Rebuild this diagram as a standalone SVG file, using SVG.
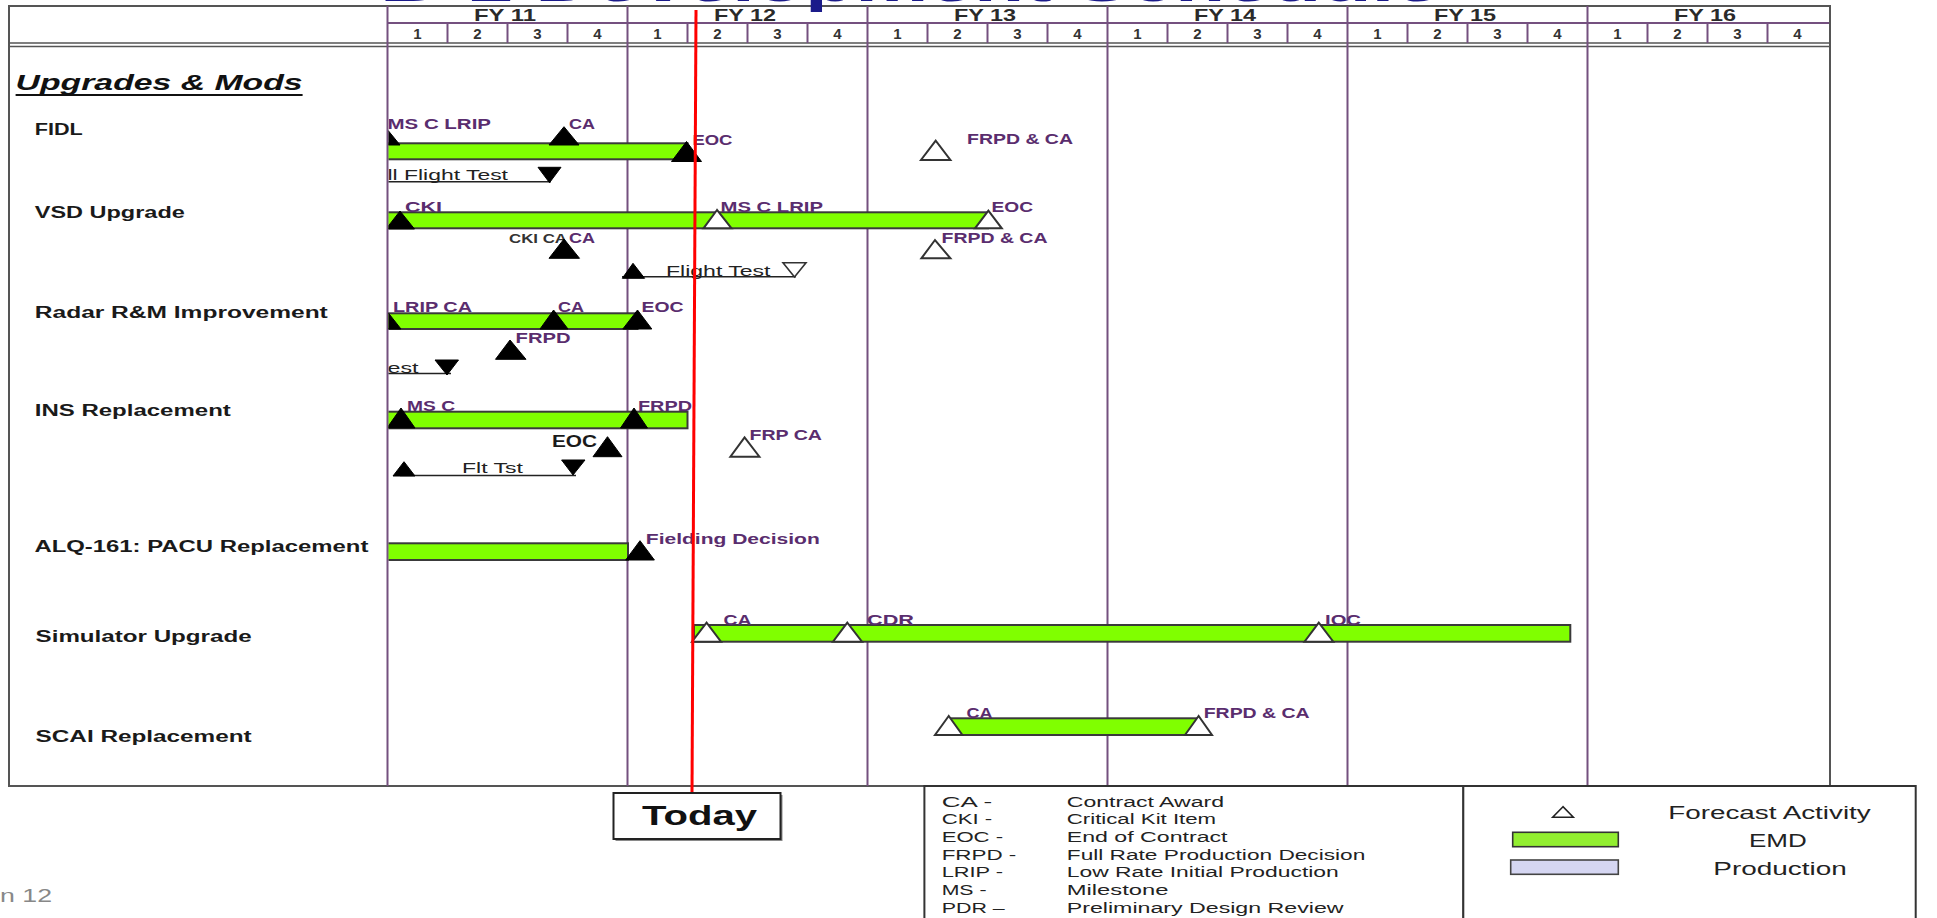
<svg xmlns="http://www.w3.org/2000/svg" width="1937" height="918" viewBox="0 0 1937 918">
<defs>
<style>
text{font-family:"Liberation Sans",Arial,sans-serif}
.ms{font-size:14.5px;font-weight:bold;fill:#5a2d6e}
.row{font-size:16px;font-weight:bold;fill:#1a1a1a}
.reg{font-size:15.5px;fill:#222}
.fy{font-size:17px;font-weight:bold;fill:#2a2a2a}
.q{font-size:15px;font-weight:bold;fill:#333;text-anchor:middle}
.lg{font-size:14px;fill:#222}
.lg2{font-size:17.5px;fill:#222}
.bar{fill:#80ff00;stroke:#3a3a3a;stroke-width:2}
.tb{fill:#000;stroke:#000;stroke-width:1}
.th{fill:#fff;stroke:#333;stroke-width:2}
.grid{stroke:#74507f;stroke-width:2}
.span{stroke:#222;stroke-width:1.6}
</style>
<clipPath id="chartclip"><rect x="388.5" y="46" width="1441" height="740"/></clipPath>
</defs>
<rect width="1937" height="918" fill="#fff"/>

<g id="frame">
<rect x="9" y="6" width="1821" height="780" fill="none" stroke="#555" stroke-width="2"/>
<line class="grid" x1="387.5" y1="23" x2="1829" y2="23"/>
<line x1="9" y1="43" x2="1830" y2="43" stroke="#555" stroke-width="1.6"/>
<line x1="9" y1="46.5" x2="1830" y2="46.5" stroke="#555" stroke-width="1.6"/>
<g class="grid">
<line x1="387.5" y1="6" x2="387.5" y2="786"/>
<line x1="627.5" y1="6" x2="627.5" y2="786"/>
<line x1="867.5" y1="6" x2="867.5" y2="786"/>
<line x1="1107.5" y1="6" x2="1107.5" y2="786"/>
<line x1="1347.5" y1="6" x2="1347.5" y2="786"/>
<line x1="1587.5" y1="6" x2="1587.5" y2="786"/>
<line x1="447.5" y1="23" x2="447.5" y2="43"/><line x1="507.5" y1="23" x2="507.5" y2="43"/><line x1="567.5" y1="23" x2="567.5" y2="43"/>
<line x1="687.5" y1="23" x2="687.5" y2="43"/><line x1="747.5" y1="23" x2="747.5" y2="43"/><line x1="807.5" y1="23" x2="807.5" y2="43"/>
<line x1="927.5" y1="23" x2="927.5" y2="43"/><line x1="987.5" y1="23" x2="987.5" y2="43"/><line x1="1047.5" y1="23" x2="1047.5" y2="43"/>
<line x1="1167.5" y1="23" x2="1167.5" y2="43"/><line x1="1227.5" y1="23" x2="1227.5" y2="43"/><line x1="1287.5" y1="23" x2="1287.5" y2="43"/>
<line x1="1407.5" y1="23" x2="1407.5" y2="43"/><line x1="1467.5" y1="23" x2="1467.5" y2="43"/><line x1="1527.5" y1="23" x2="1527.5" y2="43"/>
<line x1="1647.5" y1="23" x2="1647.5" y2="43"/><line x1="1707.5" y1="23" x2="1707.5" y2="43"/><line x1="1767.5" y1="23" x2="1767.5" y2="43"/>
</g>
</g>

<text id="title" x="380" y="1" font-size="52" font-weight="bold" fill="#1b1b8a" textLength="1060" lengthAdjust="spacingAndGlyphs">B-1 Development Schedule</text>

<g id="header">
<text class="fy" x="505" y="20.5" text-anchor="middle" textLength="62" lengthAdjust="spacingAndGlyphs">FY 11</text>
<text class="fy" x="745" y="20.5" text-anchor="middle" textLength="62" lengthAdjust="spacingAndGlyphs">FY 12</text>
<text class="fy" x="985" y="20.5" text-anchor="middle" textLength="62" lengthAdjust="spacingAndGlyphs">FY 13</text>
<text class="fy" x="1225" y="20.5" text-anchor="middle" textLength="62" lengthAdjust="spacingAndGlyphs">FY 14</text>
<text class="fy" x="1465" y="20.5" text-anchor="middle" textLength="62" lengthAdjust="spacingAndGlyphs">FY 15</text>
<text class="fy" x="1705" y="20.5" text-anchor="middle" textLength="62" lengthAdjust="spacingAndGlyphs">FY 16</text>
<text class="q" y="38.5"><tspan x="417.5">1</tspan><tspan x="477.5">2</tspan><tspan x="537.5">3</tspan><tspan x="597.5">4</tspan><tspan x="657.5">1</tspan><tspan x="717.5">2</tspan><tspan x="777.5">3</tspan><tspan x="837.5">4</tspan><tspan x="897.5">1</tspan><tspan x="957.5">2</tspan><tspan x="1017.5">3</tspan><tspan x="1077.5">4</tspan><tspan x="1137.5">1</tspan><tspan x="1197.5">2</tspan><tspan x="1257.5">3</tspan><tspan x="1317.5">4</tspan><tspan x="1377.5">1</tspan><tspan x="1437.5">2</tspan><tspan x="1497.5">3</tspan><tspan x="1557.5">4</tspan><tspan x="1617.5">1</tspan><tspan x="1677.5">2</tspan><tspan x="1737.5">3</tspan><tspan x="1797.5">4</tspan></text>
</g>

<g id="section-title">
<text x="15.6" y="90" font-size="22" font-weight="bold" font-style="italic" fill="#111" textLength="287" lengthAdjust="spacingAndGlyphs">Upgrades &amp; Mods</text>
<line x1="15.6" y1="95" x2="302.6" y2="95" stroke="#111" stroke-width="2"/>
</g>

<g id="row-labels">
<text class="row" x="34.8" y="135" textLength="48" lengthAdjust="spacingAndGlyphs">FIDL</text>
<text class="row" x="34.8" y="218.3" textLength="150" lengthAdjust="spacingAndGlyphs">VSD Upgrade</text>
<text class="row" x="34.8" y="318.3" textLength="293" lengthAdjust="spacingAndGlyphs">Radar R&amp;M Improvement</text>
<text class="row" x="34.8" y="416" textLength="196" lengthAdjust="spacingAndGlyphs">INS Replacement</text>
<text class="row" x="34.4" y="552.3" textLength="334" lengthAdjust="spacingAndGlyphs">ALQ-161: PACU Replacement</text>
<text class="row" x="35.6" y="642.3" textLength="216" lengthAdjust="spacingAndGlyphs">Simulator Upgrade</text>
<text class="row" x="35.6" y="741.7" textLength="216" lengthAdjust="spacingAndGlyphs">SCAI Replacement</text>
</g>

<g id="connectors" clip-path="url(#chartclip)">
<line class="span" x1="387.5" y1="181.7" x2="551" y2="181.7"/>
<line class="span" x1="622" y1="276.7" x2="796" y2="276.7"/>
<line class="span" x1="387.5" y1="373.5" x2="451" y2="373.5"/>
<line class="span" x1="400" y1="475.5" x2="576" y2="475.5"/>
</g>

<g id="row-fidl" clip-path="url(#chartclip)">
<rect class="bar" x="387.5" y="143.3" width="300" height="16"/>
<polygon class="tb" points="385,126.7 370,145 400,145"/>
<polygon class="tb" points="564,126.7 549,145 579,145"/>
<polygon class="tb" points="686.5,141.5 671.5,161.5 701.5,161.5"/>
<polygon class="th" points="935.7,140.7 921,160 950.4,160"/>
<text class="ms" x="387.5" y="129" textLength="103.5" lengthAdjust="spacingAndGlyphs">MS C LRIP</text>
<text class="ms" x="569" y="129" textLength="26" lengthAdjust="spacingAndGlyphs">CA</text>
<text class="ms" x="692.4" y="145" textLength="40" lengthAdjust="spacingAndGlyphs">EOC</text>
<text class="ms" x="967" y="144" textLength="106" lengthAdjust="spacingAndGlyphs">FRPD &amp; CA</text>
<text class="reg" x="387.5" y="180" textLength="120.5" lengthAdjust="spacingAndGlyphs">ll Flight Test</text>
<polygon class="tb" points="538,167.3 561,167.3 549.5,182.7"/>
</g>

<g id="row-vsd" clip-path="url(#chartclip)">
<rect class="bar" x="387.5" y="212.3" width="600.5" height="16"/>
<polygon class="tb" points="400,211 386,229 414.5,229"/>
<polygon class="th" points="717,210 703.5,228.3 731.5,228.3"/>
<polygon class="th" points="988.4,210.7 975,228.3 1001.8,228.3"/>
<text class="ms" x="405" y="212.3" textLength="37" lengthAdjust="spacingAndGlyphs">CKI</text>
<text class="ms" x="720.5" y="212.3" textLength="102.5" lengthAdjust="spacingAndGlyphs">MS C LRIP</text>
<text class="ms" x="991.5" y="212" textLength="41.5" lengthAdjust="spacingAndGlyphs">EOC</text>
<text x="509" y="242.5" font-size="12.5" font-weight="bold" fill="#333" textLength="58" lengthAdjust="spacingAndGlyphs">CKI CA</text>
<text class="ms" x="569" y="242.5" textLength="26" lengthAdjust="spacingAndGlyphs">CA</text>
<polygon class="tb" points="564,239 549,258.3 579.5,258.3"/>
<polygon class="th" points="935,240 921.4,258.3 950.4,258.3"/>
<text class="ms" x="941.5" y="242.5" textLength="106" lengthAdjust="spacingAndGlyphs">FRPD &amp; CA</text>
<polygon class="tb" points="633,263.3 622.3,278.3 644.6,278.3"/>
<polygon class="th" points="783,262.7 806,262.7 794.5,277" style="stroke-width:1.6"/>
<text class="reg" x="666" y="275.7" textLength="104.5" lengthAdjust="spacingAndGlyphs">Flight Test</text>
</g>

<g id="row-radar" clip-path="url(#chartclip)">
<rect class="bar" x="387.5" y="313.3" width="250" height="15.7"/>
<polygon class="tb" points="386,310 371,329 401,329"/>
<polygon class="tb" points="553.6,310 540,329 568,329"/>
<polygon class="tb" points="637.5,310 622.8,329 651.8,329"/>
<text class="ms" x="393" y="312.3" textLength="79" lengthAdjust="spacingAndGlyphs">LRIP CA</text>
<text class="ms" x="558" y="312.3" textLength="26" lengthAdjust="spacingAndGlyphs">CA</text>
<text class="ms" x="641.5" y="312.3" textLength="42" lengthAdjust="spacingAndGlyphs">EOC</text>
<polygon class="tb" points="510,340 495.5,359.3 526,359.3"/>
<text class="ms" x="515.6" y="343.3" textLength="55" lengthAdjust="spacingAndGlyphs">FRPD</text>
<text class="reg" x="387.5" y="372.5" textLength="31" lengthAdjust="spacingAndGlyphs">est</text>
<polygon class="tb" points="435,360 458.5,360 447,375"/>
</g>

<g id="row-ins" clip-path="url(#chartclip)">
<rect class="bar" x="387.5" y="411.7" width="300" height="16.6"/>
<polygon class="tb" points="401,408 387,428 415,428"/>
<polygon class="tb" points="634,408 620.5,428 647.5,428"/>
<text class="ms" x="407" y="411" textLength="48" lengthAdjust="spacingAndGlyphs">MS C</text>
<text class="ms" x="638" y="411" textLength="54" lengthAdjust="spacingAndGlyphs">FRPD</text>
<polygon class="tb" points="607.5,436.7 593,456.7 622,456.7"/>
<text x="552" y="446.7" font-size="17" font-weight="bold" fill="#1a1a1a" textLength="45" lengthAdjust="spacingAndGlyphs">EOC</text>
<polygon class="tb" points="404,461.7 393,476 415,476"/>
<polygon class="tb" points="561.6,460 585,460 573,475"/>
<text class="reg" x="462" y="473.3" textLength="61" lengthAdjust="spacingAndGlyphs">Flt Tst</text>
<polygon class="th" points="744.6,437.3 730.4,456.7 759.4,456.7"/>
<text class="ms" x="749.5" y="440" textLength="72.5" lengthAdjust="spacingAndGlyphs">FRP CA</text>
</g>

<g id="row-alq" clip-path="url(#chartclip)">
<rect class="bar" x="387.5" y="543.3" width="240.5" height="16.7"/>
<polygon class="tb" points="640,540.7 625.7,560 654.4,560"/>
<text class="ms" x="645.8" y="544" textLength="174" lengthAdjust="spacingAndGlyphs">Fielding Decision</text>
</g>

<g id="row-sim" clip-path="url(#chartclip)">
<rect class="bar" x="694" y="625" width="876.3" height="16.7"/>
<polygon class="th" points="706.6,622.7 692,641.7 721,641.7"/>
<polygon class="th" points="847.3,622.7 833,641.7 862,641.7"/>
<polygon class="th" points="1318.8,622.7 1304.5,641.7 1333.3,641.7"/>
<text class="ms" x="723.6" y="625" textLength="28" lengthAdjust="spacingAndGlyphs">CA</text>
<text class="ms" x="867" y="625" textLength="47" lengthAdjust="spacingAndGlyphs">CDR</text>
<text class="ms" x="1325" y="625" textLength="36" lengthAdjust="spacingAndGlyphs">IOC</text>
</g>

<g id="row-scai" clip-path="url(#chartclip)">
<rect class="bar" x="948" y="718.3" width="250" height="16.7"/>
<polygon class="th" points="948.7,716 935,735 962.4,735"/>
<polygon class="th" points="1198.6,716 1185,735 1212,735"/>
<text class="ms" x="966.6" y="718.3" textLength="26" lengthAdjust="spacingAndGlyphs">CA</text>
<text class="ms" x="1203.7" y="718.3" textLength="106" lengthAdjust="spacingAndGlyphs">FRPD &amp; CA</text>
</g>

<g id="today">
<line x1="696" y1="10" x2="692" y2="793" stroke="#ff0000" stroke-width="3"/>
<rect x="615.5" y="795" width="167" height="46" fill="#8a8a8a"/>
<rect x="613.5" y="793" width="167" height="46" fill="#fff" stroke="#222" stroke-width="2"/>
<text x="642" y="825" font-size="27" font-weight="bold" fill="#111" textLength="115" lengthAdjust="spacingAndGlyphs">Today</text>
</g>

<g id="legend-abbrev">
<rect x="924.4" y="786" width="539" height="140" fill="#fff" stroke="#333" stroke-width="2"/>
<text class="lg" x="941.7" y="806.7" textLength="50.5" lengthAdjust="spacingAndGlyphs">CA -</text>
<text class="lg" x="941.7" y="824.3" textLength="50.5" lengthAdjust="spacingAndGlyphs">CKI -</text>
<text class="lg" x="941.7" y="842.3" textLength="61.4" lengthAdjust="spacingAndGlyphs">EOC -</text>
<text class="lg" x="941.7" y="860" textLength="74.6" lengthAdjust="spacingAndGlyphs">FRPD -</text>
<text class="lg" x="941.7" y="877.3" textLength="61.4" lengthAdjust="spacingAndGlyphs">LRIP -</text>
<text class="lg" x="941.7" y="895" textLength="44.8" lengthAdjust="spacingAndGlyphs">MS -</text>
<text class="lg" x="941.7" y="912.7" textLength="63" lengthAdjust="spacingAndGlyphs">PDR –</text>
<text class="lg" x="1066.8" y="806.7" textLength="157.3" lengthAdjust="spacingAndGlyphs">Contract Award</text>
<text class="lg" x="1066.8" y="824.3" textLength="149.3" lengthAdjust="spacingAndGlyphs">Critical Kit Item</text>
<text class="lg" x="1066.8" y="842.3" textLength="160.7" lengthAdjust="spacingAndGlyphs">End of Contract</text>
<text class="lg" x="1066.8" y="860" textLength="298.5" lengthAdjust="spacingAndGlyphs">Full Rate Production Decision</text>
<text class="lg" x="1066.8" y="877.3" textLength="272" lengthAdjust="spacingAndGlyphs">Low Rate Initial Production</text>
<text class="lg" x="1066.8" y="895" textLength="101.6" lengthAdjust="spacingAndGlyphs">Milestone</text>
<text class="lg" x="1066.8" y="912.7" textLength="276.7" lengthAdjust="spacingAndGlyphs">Preliminary Design Review</text>
</g>

<g id="legend-key">
<rect x="1463.3" y="786" width="452.4" height="140" fill="#fff" stroke="#333" stroke-width="2"/>
<polygon points="1563,806.7 1552.7,817.3 1573.3,817.3" fill="#fff" stroke="#222" stroke-width="1.6"/>
<rect x="1512.7" y="832.3" width="105.6" height="14.4" fill="#92ee30" stroke="#333" stroke-width="1.6"/>
<rect x="1510.7" y="860" width="107.6" height="14.3" fill="#d5d6f2" stroke="#444" stroke-width="1.6"/>
<text class="lg2" x="1668.3" y="819.3" textLength="202.4" lengthAdjust="spacingAndGlyphs">Forecast Activity</text>
<text class="lg2" x="1749" y="846.7" textLength="57.7" lengthAdjust="spacingAndGlyphs">EMD</text>
<text class="lg2" x="1713.3" y="874.5" textLength="133.4" lengthAdjust="spacingAndGlyphs">Production</text>
</g>

<text id="footer" x="0" y="901.7" font-size="18" fill="#888" textLength="52" lengthAdjust="spacingAndGlyphs">n 12</text>
</svg>
